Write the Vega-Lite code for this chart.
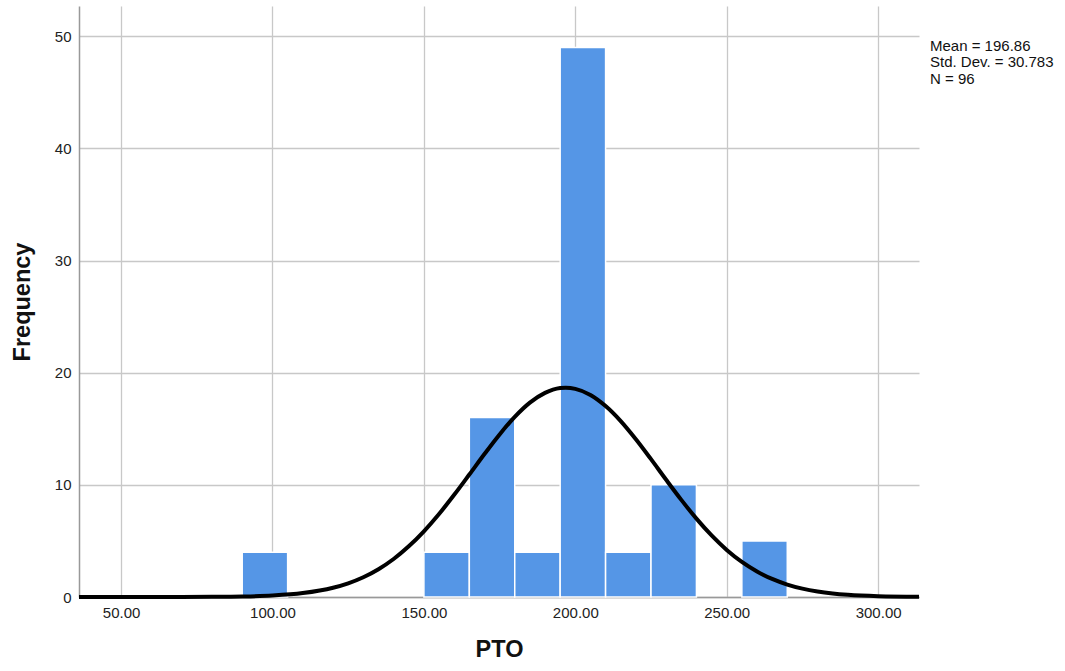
{
  "$schema": "https://vega.github.io/schema/vega-lite/v6.json",
  "width": 840,
  "height": 591,
  "autosize": {"type": "none"},
  "padding": {"left": 79, "top": 6, "right": 146, "bottom": 74},
  "background": "white",
  "config": {
    "view": {"stroke": null},
    "font": "Liberation Sans",
    "axis": {
      "labelFont": "Liberation Sans",
      "labelFontSize": 15,
      "labelColor": "#222222",
      "titleFont": "Liberation Sans",
      "titleFontSize": 23.5,
      "titleFontWeight": "bold",
      "titleColor": "#111111",
      "gridColor": "#c8c8c8",
      "gridWidth": 1.3,
      "domainColor": "#999999",
      "domainWidth": 1.5,
      "ticks": false
    }
  },
  "datasets": {
    "bins": [
      {"start": 90, "end": 105, "count": 4},
      {"start": 150, "end": 165, "count": 4},
      {"start": 165, "end": 180, "count": 16},
      {"start": 180, "end": 195, "count": 4},
      {"start": 195, "end": 210, "count": 49},
      {"start": 210, "end": 225, "count": 4},
      {"start": 225, "end": 240, "count": 10},
      {"start": 255, "end": 270, "count": 5}
    ],
    "curve": [
      {"x": 36.1, "y": 0.0},
      {"x": 50, "y": 0.0002},
      {"x": 60, "y": 0.001},
      {"x": 70, "y": 0.0038},
      {"x": 80, "y": 0.0138},
      {"x": 90, "y": 0.045},
      {"x": 100, "y": 0.132},
      {"x": 110, "y": 0.349},
      {"x": 120, "y": 0.827},
      {"x": 125, "y": 1.224},
      {"x": 130, "y": 1.764},
      {"x": 135, "y": 2.48},
      {"x": 140, "y": 3.39},
      {"x": 145, "y": 4.52},
      {"x": 150, "y": 5.86},
      {"x": 155, "y": 7.40},
      {"x": 160, "y": 9.11},
      {"x": 165, "y": 10.92},
      {"x": 170, "y": 12.75},
      {"x": 175, "y": 14.50},
      {"x": 180, "y": 16.06},
      {"x": 185, "y": 17.33},
      {"x": 190, "y": 18.20},
      {"x": 195, "y": 18.63},
      {"x": 196.86, "y": 18.66},
      {"x": 200, "y": 18.56},
      {"x": 205, "y": 18.02},
      {"x": 210, "y": 17.03},
      {"x": 215, "y": 15.69},
      {"x": 220, "y": 14.07},
      {"x": 225, "y": 12.29},
      {"x": 230, "y": 10.45},
      {"x": 235, "y": 8.66},
      {"x": 240, "y": 6.99},
      {"x": 245, "y": 5.49},
      {"x": 250, "y": 4.20},
      {"x": 255, "y": 3.13},
      {"x": 260, "y": 2.28},
      {"x": 265, "y": 1.61},
      {"x": 270, "y": 1.109},
      {"x": 275, "y": 0.744},
      {"x": 280, "y": 0.486},
      {"x": 285, "y": 0.309},
      {"x": 290, "y": 0.192},
      {"x": 300, "y": 0.068},
      {"x": 313.5, "y": 0.015}
    ],
    "stats": [
      {"label": ["Mean = 196.86", "Std. Dev. = 30.783", "N = 96"]}
    ]
  },
  "layer": [
    {
      "data": {"name": "bins"},
      "mark": {"type": "bar", "color": "#5596e6", "stroke": "white", "strokeWidth": 1.5},
      "encoding": {
        "x": {
          "field": "start", "type": "quantitative",
          "scale": {"domain": [36.1, 313.5], "nice": false, "zero": false},
          "axis": {
            "values": [50, 100, 150, 200, 250, 300],
            "format": ".2f",
            "title": "PTO",
            "titlePadding": 17,
            "labelPadding": 8
          }
        },
        "x2": {"field": "end"},
        "y": {
          "field": "count", "type": "quantitative",
          "scale": {"domain": [0, 52.7], "nice": false},
          "axis": {
            "values": [0, 10, 20, 30, 40, 50],
            "title": "Frequency",
            "titlePadding": 20,
            "labelPadding": 8
          }
        },
        "y2": {"datum": 0}
      }
    },
    {
      "data": {"name": "curve"},
      "mark": {"type": "line", "color": "black", "strokeWidth": 4, "interpolate": "monotone"},
      "encoding": {
        "x": {"field": "x", "type": "quantitative"},
        "y": {"field": "y", "type": "quantitative"}
      }
    },
    {
      "data": {"name": "stats"},
      "mark": {"type": "text", "align": "left", "baseline": "top", "fontSize": 15, "lineHeight": 16.5, "dx": 11, "color": "#111111", "font": "Liberation Sans", "clip": false},
      "encoding": {
        "x": {"datum": 313.5, "type": "quantitative"},
        "y": {"datum": 49.8, "type": "quantitative"},
        "text": {"field": "label"}
      }
    }
  ]
}
